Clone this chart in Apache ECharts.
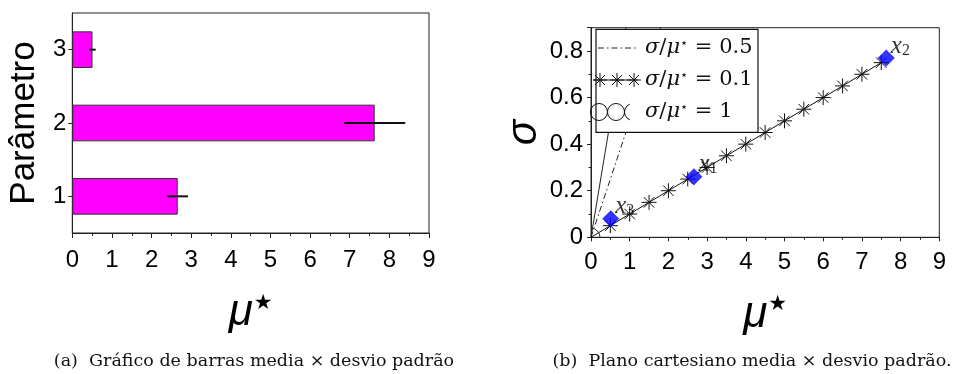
<!DOCTYPE html>
<html>
<head>
<meta charset="utf-8">
<script src="https://cdn.jsdelivr.net/npm/echarts@6/dist/echarts.min.js"></script>
<style>
  html, body { margin: 0; padding: 0; background: #fff; }
  #chart { width: 954px; height: 374px; }
</style>
</head>
<body>
<div id="chart"></div>
<script>
// Parameters and their elementary-effect statistics
const params = ['1', '2', '3'];
const muStar = [2.66, 7.63, 0.51];
const sigma = [0.26, 0.77, 0.08];

// Reference points on the line sigma / mu* = 0.1
const starMu = [0, 0.5, 1, 1.5, 2, 2.5, 3, 3.5, 4, 4.5, 5, 5.5, 6, 6.5, 7, 7.5];
const starSigma = [0, 0.05, 0.10, 0.15, 0.20, 0.25, 0.30, 0.35, 0.40, 0.45, 0.50, 0.55, 0.60, 0.65, 0.70, 0.75];

// End points of the sigma / mu* = 0.5 and sigma / mu* = 1 lines
const halfMu = [0, 1.8];
const halfSigma = [0, 0.9];
const unitMu = [0, 0.9];
const unitSigma = [0, 0.9];

const SANS = '"Liberation Sans", Arial, sans-serif';
const SERIF = '"DejaVu Serif", "Liberation Serif", serif';
const STAR_PATH = 'path://M0,5L10,5M5,0L5,10M1.5,1.5L8.5,8.5M8.5,1.5L1.5,8.5';
const LZ = 100; // legend drawn above the series

function legendRich() {
  return {
    i: { fontFamily: SERIF, fontStyle: 'italic', fontSize: 21, fill: '#111' },
    n: { fontFamily: SERIF, fontSize: 21, fill: '#111' },
    s: { fontFamily: '"DejaVu Sans", sans-serif', fontSize: 13, fill: '#111', verticalAlign: 'top' }
  };
}

// asterisk glyph for the legend, built from four short strokes
function legendStar(cx, cy) {
  const r = 7, d = 5;
  const segs = [[-r, 0, r, 0], [0, -r, 0, r], [-d, -d, d, d], [d, -d, -d, d]];
  return segs.map(s => ({
    type: 'line', z: LZ + 1,
    shape: { x1: cx + s[0], y1: cy + s[1], x2: cx + s[2], y2: cy + s[3] },
    style: { stroke: '#111', lineWidth: 1 }
  }));
}

const chart = echarts.init(document.getElementById('chart'), null, { renderer: 'canvas' });

const muName = {
  name: '{m|μ}{s|★}',
  nameLocation: 'middle',
  nameTextStyle: {
    rich: {
      m: { fontFamily: SANS, fontStyle: 'italic', fontSize: 44, color: '#000' },
      s: { fontFamily: '"DejaVu Sans", sans-serif', fontSize: 21, color: '#000', verticalAlign: 'top', padding: [2, 0, 0, 1] }
    }
  }
};

const axisLabelStyle = { color: '#000', fontFamily: SANS, fontSize: 24 };

const legendChildren = [
  { type: 'rect', z: LZ, shape: { x: 596, y: 29.3, width: 162, height: 103 }, style: { fill: '#fff', stroke: '#111', lineWidth: 1.2 } },
  { type: 'line', z: LZ + 1, shape: { x1: 598, y1: 48, x2: 636, y2: 48 }, style: { stroke: '#222', lineWidth: 1, lineDash: [6, 3, 1.5, 3] } },
  { type: 'line', z: LZ + 1, shape: { x1: 593, y1: 80, x2: 638, y2: 80 }, style: { stroke: '#111', lineWidth: 1 } }
]
  .concat(legendStar(600, 80), legendStar(617, 80), legendStar(634, 80))
  .concat([
    { type: 'circle', z: LZ + 1, shape: { cx: 599, cy: 112, r: 8.5 }, style: { fill: 'none', stroke: '#111', lineWidth: 1 } },
    { type: 'circle', z: LZ + 1, shape: { cx: 616, cy: 112, r: 8.5 }, style: { fill: 'none', stroke: '#111', lineWidth: 1 } },
    { type: 'arc', z: LZ + 1, shape: { cx: 633, cy: 112, r: 8.5, startAngle: Math.PI * 0.62, endAngle: Math.PI * 1.38 }, style: { fill: 'none', stroke: '#111', lineWidth: 1 } },
    { type: 'text', z: LZ + 1, x: 645, y: 48, style: { text: '{i|σ}{n|/}{i|μ}{s|⋆}{n| = 0.5}', verticalAlign: 'middle', rich: legendRich() } },
    { type: 'text', z: LZ + 1, x: 645, y: 80, style: { text: '{i|σ}{n|/}{i|μ}{s|⋆}{n| = 0.1}', verticalAlign: 'middle', rich: legendRich() } },
    { type: 'text', z: LZ + 1, x: 645, y: 112, style: { text: '{i|σ}{n|/}{i|μ}{s|⋆}{n| = 1}', verticalAlign: 'middle', rich: legendRich() } }
  ]);

const option = {
  animation: false,
  backgroundColor: '#fff',
  grid: [
    { left: 72.3, top: 13, width: 356.7, height: 220, show: true, borderColor: '#222', borderWidth: 1, backgroundColor: 'transparent' },
    { left: 591, top: 27.7, width: 348.3, height: 209.6, show: true, borderColor: '#222', borderWidth: 1, backgroundColor: 'transparent' }
  ],
  xAxis: [
    Object.assign({
      gridIndex: 0, type: 'value', min: 0, max: 9, interval: 1,
      nameGap: 58,
      axisLine: { show: true, lineStyle: { color: '#222', width: 1 } },
      axisTick: { show: true, inside: false, length: 5, lineStyle: { color: '#222' } },
      minorTick: { show: true, splitNumber: 2, length: 3, lineStyle: { color: '#222' } },
      splitLine: { show: false },
      axisLabel: Object.assign({ margin: 15 }, axisLabelStyle)
    }, muName),
    Object.assign({
      gridIndex: 1, type: 'value', min: 0, max: 9, interval: 1,
      nameGap: 55,
      axisLine: { show: true, lineStyle: { color: '#222', width: 1 } },
      axisTick: { show: true, inside: false, length: 4, lineStyle: { color: '#222' } },
      minorTick: { show: true, splitNumber: 2, length: 2.5, lineStyle: { color: '#222' } },
      splitLine: { show: false },
      axisLabel: Object.assign({ margin: 13 }, axisLabelStyle)
    }, muName)
  ],
  yAxis: [
    {
      gridIndex: 0, type: 'category', data: params,
      name: 'Parâmetro', nameLocation: 'middle', nameGap: 30, nameRotate: 90,
      nameTextStyle: { fontFamily: SANS, fontSize: 35, color: '#000' },
      axisLine: { show: true, lineStyle: { color: '#222', width: 1 } },
      axisTick: { show: true, alignWithLabel: true, length: 4, lineStyle: { color: '#222' } },
      splitLine: { show: false },
      axisLabel: Object.assign({ margin: 6 }, axisLabelStyle)
    },
    {
      gridIndex: 1, type: 'value', min: 0, max: 0.9, interval: 0.2,
      name: 'σ', nameLocation: 'middle', nameGap: 42, nameRotate: 90,
      nameTextStyle: { fontFamily: SANS, fontStyle: 'italic', fontSize: 42, color: '#000' },
      axisLine: { show: true, lineStyle: { color: '#222', width: 1 } },
      axisTick: { show: true, length: 4, lineStyle: { color: '#222' } },
      minorTick: { show: true, splitNumber: 2, length: 2.5, lineStyle: { color: '#222' } },
      splitLine: { show: false },
      axisLabel: Object.assign({
        margin: 8,
        formatter: v => (v === 0 ? '0' : v.toFixed(1)),
        showMaxLabel: false
      }, axisLabelStyle)
    }
  ],
  series: [
    // (a) bars of mu* per parameter
    {
      type: 'bar', xAxisIndex: 0, yAxisIndex: 0,
      data: muStar, barWidth: '50%',
      itemStyle: { color: '#ff00ff', borderColor: '#333', borderWidth: 1 }
    },
    // (a) sigma shown as a horizontal bar around mu*
    {
      type: 'custom', xAxisIndex: 0, yAxisIndex: 0, z: 5,
      data: params.map((p, i) => [muStar[i] - sigma[i], muStar[i] + sigma[i], i]),
      renderItem: (ctx, api) => {
        const a = api.coord([api.value(0), api.value(2)]);
        const b = api.coord([api.value(1), api.value(2)]);
        return {
          type: 'line',
          shape: { x1: a[0], y1: a[1], x2: b[0], y2: b[1] },
          style: { stroke: '#111', lineWidth: 2 }
        };
      }
    },
    // (b) sigma / mu* = 1
    {
      type: 'line', xAxisIndex: 1, yAxisIndex: 1, symbol: 'none',
      data: unitMu.map((m, i) => [m, unitSigma[i]]),
      lineStyle: { color: '#222', width: 1 }
    },
    // open circle marker at the origin of the sigma / mu* = 1 line
    {
      type: 'custom', xAxisIndex: 1, yAxisIndex: 1, clip: true,
      data: [[unitMu[0], unitSigma[0]]],
      renderItem: (ctx, api) => {
        const c = api.coord([api.value(0), api.value(1)]);
        return {
          type: 'circle',
          shape: { cx: c[0], cy: c[1], r: 9 },
          style: { fill: 'none', stroke: '#333', lineWidth: 1 }
        };
      }
    },
    // (b) sigma / mu* = 0.5
    {
      type: 'line', xAxisIndex: 1, yAxisIndex: 1, symbol: 'none',
      data: halfMu.map((m, i) => [m, halfSigma[i]]),
      lineStyle: { color: '#222', width: 1, type: [6, 3, 1.5, 3] }
    },
    // (b) sigma / mu* = 0.1 with asterisk markers
    {
      type: 'line', xAxisIndex: 1, yAxisIndex: 1,
      symbol: STAR_PATH, symbolSize: 15, showAllSymbol: true,
      data: starMu.map((m, i) => (m === 0 ? { value: [m, starSigma[i]], symbol: 'none' } : [m, starSigma[i]])),
      lineStyle: { color: '#111', width: 1 },
      itemStyle: { color: 'transparent', borderColor: '#111', borderWidth: 1 }
    },
    // (b) parameters on the (mu*, sigma) plane
    {
      type: 'scatter', xAxisIndex: 1, yAxisIndex: 1, z: 6,
      symbol: 'diamond', symbolSize: 17,
      data: muStar.map((m, i) => ({ value: [m, sigma[i]], name: params[i] })),
      itemStyle: { color: '#0000ff' },
      label: {
        show: true, position: 'right', distance: 0, offset: [-4, -12],
        formatter: p => '{x|x}{s|' + p.name + '}',
        rich: {
          x: { fontFamily: '"Liberation Serif", serif', fontStyle: 'italic', fontSize: 25, color: '#000' },
          s: { fontFamily: '"Liberation Serif", serif', fontSize: 16, color: '#000', verticalAlign: 'bottom' }
        }
      }
    }
  ],
  graphic: [
    { type: 'group', children: legendChildren },
    // sub-figure captions
    {
      type: 'text', x: 254, y: 361,
      style: { text: '(a)  Gráfico de barras media × desvio padrão', fontFamily: SERIF, fontSize: 17.5, fill: '#111', align: 'center', verticalAlign: 'middle' }
    },
    {
      type: 'text', x: 752, y: 361,
      style: { text: '(b)  Plano cartesiano media × desvio padrão.', fontFamily: SERIF, fontSize: 17.5, fill: '#111', align: 'center', verticalAlign: 'middle' }
    }
  ]
};

chart.setOption(option);
</script>
</body>
</html>
